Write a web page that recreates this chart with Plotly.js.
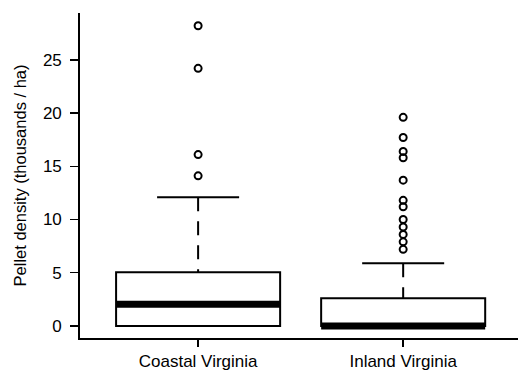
<!DOCTYPE html>
<html>
<head>
<meta charset="utf-8">
<script src="https://cdn.plot.ly/plotly-3.0.1.min.js"></script>
<style>html,body{margin:0;padding:0;background:#fff;}#chart{width:518px;height:371px;}</style>
</head>
<body>
<div id="chart"></div>
<script>
// ---- data (thousands of pellets / ha) ----
const categories = ["Coastal Virginia", "Inland Virginia"];
const q1 = [0, 0];
const medians = [2.05, 0.0];
const q3 = [5.05, 2.6];
const lowerWhisker = [0, 0];
const upperWhisker = [12.1, 5.9];
const outliersCoastal = [28.2, 24.2, 16.1, 14.1];
const outliersInland = [19.6, 17.7, 16.4, 15.8, 13.7, 11.8, 11.2, 10.0, 9.3, 8.6, 7.9, 7.2];
const tickValsY = [0, 5, 10, 15, 20, 25];

// ---- style ----
const BOXW = 0.8, CAPW = 0.4;
const FONT = "Liberation Sans, Arial, Helvetica, sans-serif";
const pos = categories.map((c, i) => i + 1);

const traces = [];
// boxes (box outline only, whiskers drawn R-style below)
traces.push({
  type: "box", x: pos, q1: q1, median: medians, q3: q3,
  lowerfence: q1, upperfence: q3, width: BOXW, whiskerwidth: 0,
  boxpoints: false, fillcolor: "#ffffff",
  line: {color: "#000", width: 2}, hoverinfo: "skip", showlegend: false
});
// thick medians
const mx = [], my = [];
pos.forEach((p, i) => { mx.push(p - BOXW/2, p + BOXW/2, null); my.push(medians[i], medians[i], null); });
traces.push({type: "scatter", mode: "lines", x: mx, y: my, line: {color: "#000", width: 7}, showlegend: false, hoverinfo: "skip"});
// dashed whiskers
const wx = [], wy = [];
pos.forEach((p, i) => {
  wx.push(p, p, null, p, p, null);
  wy.push(upperWhisker[i], q3[i], null, lowerWhisker[i], q1[i], null);
});
traces.push({type: "scatter", mode: "lines", x: wx, y: wy, line: {color: "#000", width: 2, dash: "14px,10px"}, showlegend: false, hoverinfo: "skip"});
// staples
const cx = [], cy = [];
pos.forEach((p, i) => {
  cx.push(p - CAPW/2, p + CAPW/2, null, p - CAPW/2, p + CAPW/2, null);
  cy.push(upperWhisker[i], upperWhisker[i], null, lowerWhisker[i], lowerWhisker[i], null);
});
traces.push({type: "scatter", mode: "lines", x: cx, y: cy, line: {color: "#000", width: 2}, showlegend: false, hoverinfo: "skip"});
// outliers
[outliersCoastal, outliersInland].forEach((arr, i) => {
  traces.push({
    type: "scatter", mode: "markers", x: arr.map(() => pos[i]), y: arr,
    marker: {symbol: "circle-open", size: 7, color: "#000", line: {color: "#000", width: 2}},
    showlegend: false, hoverinfo: "skip"
  });
});

const layout = {
  width: 518, height: 371,
  margin: {l: 80, r: 0, t: 13, b: 33},
  paper_bgcolor: "#fff", plot_bgcolor: "#fff",
  font: {family: FONT, color: "#000", size: 17},
  showlegend: false,
  xaxis: {
    range: [0.424, 2.56], tickvals: pos, ticktext: categories,
    showgrid: false, zeroline: false, showline: true, linecolor: "#000", linewidth: 1.8,
    ticks: "outside", ticklen: 7, tickwidth: 1.5, tickcolor: "#000",
    tickfont: {family: FONT, size: 17, color: "#000"}, fixedrange: true
  },
  yaxis: {
    range: [-1.13, 29.4], tickvals: tickValsY, ticktext: tickValsY.map(String),
    showgrid: false, zeroline: false, showline: true, linecolor: "#000", linewidth: 1.8,
    ticks: "outside", ticklen: 8, tickwidth: 1.5, tickcolor: "#000", ticklabelstandoff: 5,
    tickfont: {family: FONT, size: 17, color: "#000"},
    title: {text: "Pellet density (thousands / ha)", font: {family: FONT, size: 16.5, color: "#000"}, standoff: 12},
    fixedrange: true
  }
};

Plotly.newPlot("chart", traces, layout, {staticPlot: true, displayModeBar: false});
</script>
</body>
</html>
